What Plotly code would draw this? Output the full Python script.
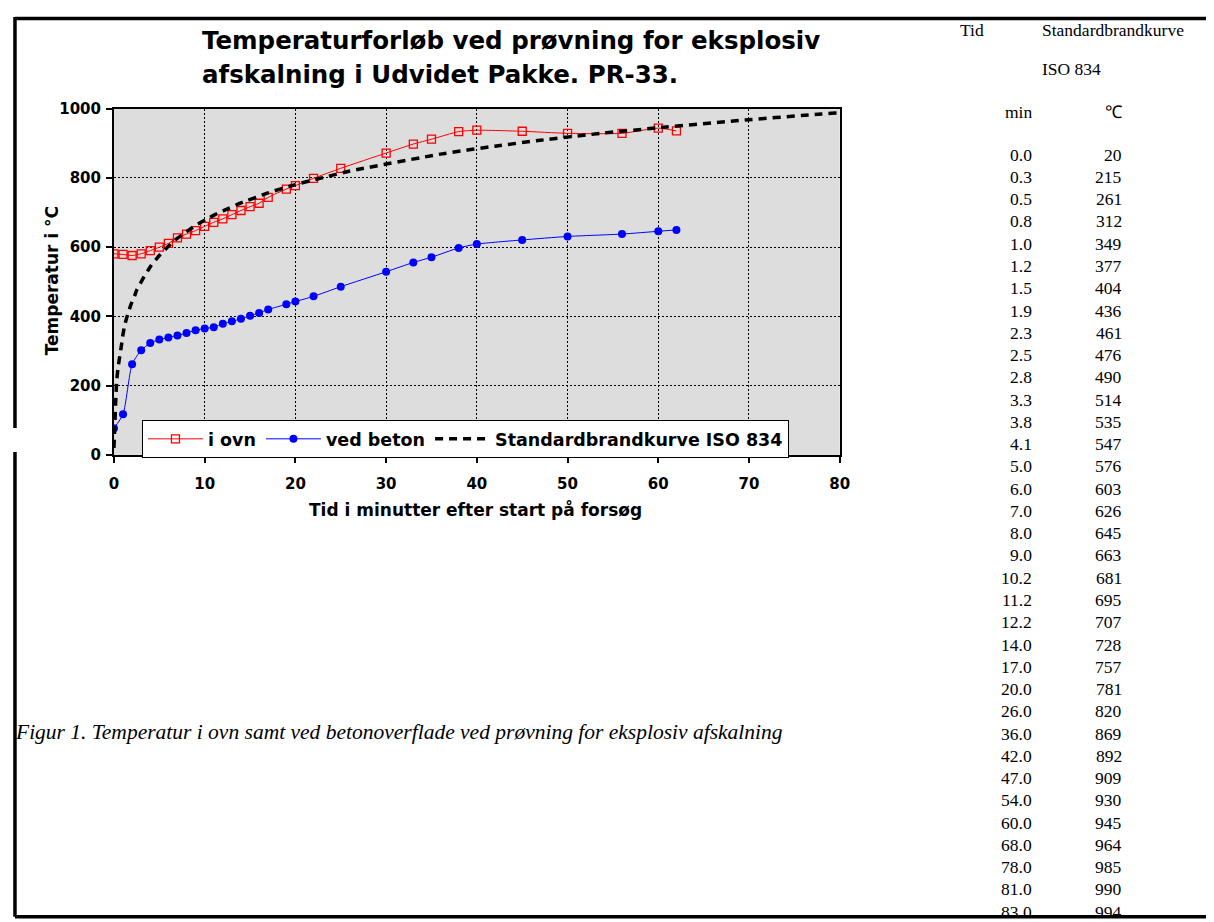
import plotly.graph_objects as go

# Måletider (min) og temperaturer (°C)
tid = [0, 1, 2, 3, 4, 5, 6, 7, 8, 9, 10, 11, 12, 13, 14, 15, 16, 17,
       19, 20, 22, 25, 30, 33, 35, 38, 40, 45, 50, 56, 60, 62]
i_ovn = [581, 579, 576, 581, 590, 600, 611, 627, 638, 648, 660, 672, 682, 694, 706, 717, 727, 744,
         768, 778, 799, 828, 872, 898, 912, 934, 938, 935, 929, 929, 944, 936]
ved_beton = [77, 117, 262, 302, 323, 333, 339, 345, 352, 360, 365, 369, 379, 386, 393, 402, 410, 420,
             435, 443, 458, 486, 529, 556, 571, 598, 609, 621, 631, 638, 646, 650]

# Standardbrandkurve ISO 834 (tabellen til højre)
iso_min = [0.0, 0.3, 0.5, 0.8, 1.0, 1.2, 1.5, 1.9, 2.3, 2.5, 2.8, 3.3, 3.8, 4.1, 5.0, 6.0, 7.0, 8.0,
           9.0, 10.2, 11.2, 12.2, 14.0, 17.0, 20.0, 26.0, 36.0, 42.0, 47.0, 54.0, 60.0, 68.0, 78.0, 81.0, 83.0]
iso_temp = [20, 215, 261, 312, 349, 377, 404, 436, 461, 476, 490, 514, 535, 547, 576, 603, 626, 645,
            663, 681, 695, 707, 728, 757, 781, 820, 869, 892, 909, 930, 945, 964, 985, 990, 994]

series_names = ["i ovn", "ved beton", "Standardbrandkurve ISO 834"]
x_ticks = [0, 10, 20, 30, 40, 50, 60, 70, 80]
y_ticks = [0, 200, 400, 600, 800, 1000]

W, H = 1214, 922

# billedet kommer lidt forskudt og formindsket ud; positioner angives i billedets pixels
# og regnes tilbage til figurens koordinater
SX, SY = 0.988, 0.983
OX, OY = 13, 16


def fx(x):
    return (x - OX) / SX


def fy(y):
    return (y - OY) / SY


def px(x):
    return min(max(fx(x), 0), W) / W


def py(y):
    return 1 - min(max(fy(y), 0), H) / H


sans = "DejaVu Sans"
serif = "Liberation Serif"

fig = go.Figure()

fig.add_trace(go.Scatter(x=tid, y=i_ovn, name=series_names[0], mode="lines+markers",
                         line=dict(color="#FF0000", width=1, shape="spline", smoothing=0.6),
                         marker=dict(symbol="square-open", size=8, color="#FF0000", line=dict(width=1.3))))
fig.add_trace(go.Scatter(x=tid, y=ved_beton, name=series_names[1], mode="lines+markers",
                         line=dict(color="#0000FF", width=1, shape="spline", smoothing=0.6),
                         marker=dict(symbol="circle", size=8, color="#0000FF")))
fig.add_trace(go.Scatter(x=iso_min, y=iso_temp, name=series_names[2], mode="lines",
                         line=dict(color="black", width=3.5, dash="8px,6px", shape="spline", smoothing=0.4)))

axis_font = dict(family=sans, size=15, color="black", weight="bold")

fig.update_xaxes(domain=[px(114), px(840)], range=[0, 80], tickvals=x_ticks,
                 showgrid=True, gridcolor="black", gridwidth=1, griddash="2px,2px",
                 showline=True, linecolor="black", linewidth=2, mirror=True,
                 ticks="outside", ticklen=6, tickcolor="black", tickwidth=1.5,
                 tickfont=axis_font, ticklabelstandoff=8, zeroline=False)
fig.update_yaxes(domain=[py(455), py(108)], range=[0, 1000], tickvals=y_ticks,
                 showgrid=True, gridcolor="black", gridwidth=1, griddash="2px,2px",
                 showline=True, linecolor="black", linewidth=2, mirror=True,
                 ticks="outside", ticklen=6, tickcolor="black", tickwidth=1.5,
                 tickfont=axis_font, ticklabelstandoff=2, zeroline=False)


def note(x, y, text, font, xanchor="center", **kw):
    return dict(x=px(x), y=py(y), xref="paper", yref="paper", xanchor=xanchor, yanchor="middle",
                text=text, showarrow=False, font=font, **kw)


title_font = dict(family=sans, size=24.5, color="black", weight="bold")
label_font = dict(family=sans, size=17, color="black", weight="bold")

annotations = [
    note(200, 40, "Temperaturforløb ved prøvning for eksplosiv", title_font, "left"),
    note(200, 74, "afskalning i Udvidet Pakke. PR-33.", title_font, "left"),
    note(52, 280, "Temperatur i °C", label_font, textangle=-90),
    note(476, 510, "Tid i minutter efter start på forsøg", label_font),
    note(10, 733, "<i>Figur 1. Temperatur i ovn samt ved betonoverflade ved prøvning for eksplosiv afskalning</i>",
         dict(family=serif, size=21.5, color="black"), "left"),
]

# tabel til højre
tab_font = dict(family=serif, size=17.5, color="black")
annotations += [
    note(958, 29, "Tid", tab_font, "left"),
    note(1040, 29, "Standardbrandkurve", tab_font, "left"),
    note(1040, 68, "ISO 834", tab_font, "left"),
    note(1034, 111, "min", tab_font, "right"),
    note(1124, 111, "℃", tab_font, "right"),
]
row_h = (913 - 154) / (len(iso_min) - 1)
for i, (m, t) in enumerate(zip(iso_min, iso_temp)):
    yy = 154 + i * row_h
    annotations.append(note(1034, yy, f"{m:.1f}", tab_font, "right"))
    annotations.append(note(1124, yy, f"{t}", tab_font, "right"))

# kanter om figuren
border = dict(color="black", width=3.5)
top, bottom = 1.5 / H, 1 - fy(918) / H
left = 2 / W
shapes = [
    dict(type="line", xref="paper", yref="paper", x0=left, x1=1, y0=1 - top, y1=1 - top, line=border),
    dict(type="line", xref="paper", yref="paper", x0=left, x1=1, y0=bottom, y1=bottom, line=border),
    dict(type="line", xref="paper", yref="paper", x0=left, x1=left, y0=1, y1=py(428), line=border),
    dict(type="line", xref="paper", yref="paper", x0=left, x1=left, y0=py(452), y1=bottom, line=border),
]

fig.update_layout(
    width=W, height=H,
    margin=dict(l=0, r=0, t=0, b=0),
    paper_bgcolor="white",
    plot_bgcolor="#DDDDDD",
    annotations=annotations,
    shapes=shapes,
    showlegend=True,
    legend=dict(orientation="h", x=px(142), y=py(420), xanchor="left", yanchor="top",
                bgcolor="white", bordercolor="black", borderwidth=1,
                font=dict(family=sans, size=17.5, color="black", weight="bold"),
                itemwidth=55, tracegroupgap=0),
)

fig.write_html("out.html")
